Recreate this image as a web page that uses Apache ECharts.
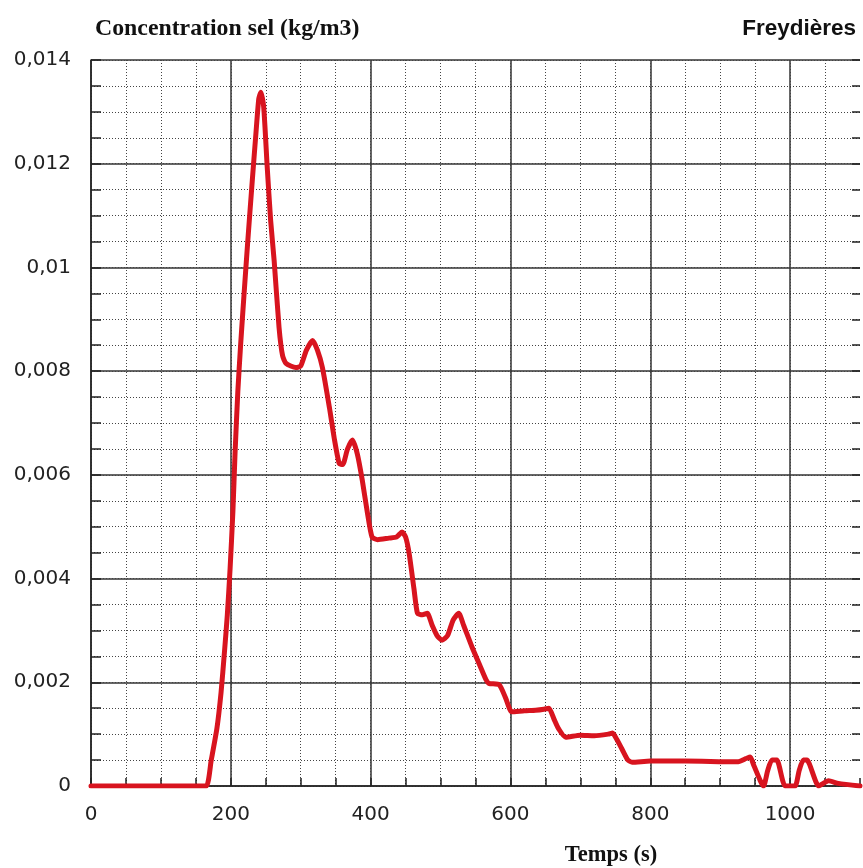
<!DOCTYPE html>
<html>
<head>
<meta charset="utf-8">
<script src="https://cdn.jsdelivr.net/npm/echarts@6/dist/echarts.min.js"></script>
<style>html,body{margin:0;padding:0;background:#fff}#c{width:863px;height:868px}</style>
</head>
<body>
<div id="c"></div>
<script>
var times = [0, 20, 40, 60, 80, 100, 120, 150, 165, 172, 180, 186, 191, 195, 199, 203, 206, 210, 214, 219, 224, 231, 236, 240, 243, 247, 252, 257, 262, 269, 274, 279, 293, 300, 308, 317, 324, 331, 341, 348, 355, 360, 367, 374, 381, 388, 395, 402, 410, 426, 437, 445, 450, 455, 462, 467, 474, 481, 488, 495, 502, 510, 518, 526, 533, 545, 557, 565, 569, 584, 593, 602, 620, 636, 648, 655, 662, 669, 679, 700, 720, 740, 746, 752, 760, 768, 774, 800, 850, 898, 926, 937, 943, 948, 962, 968, 974, 981, 993, 1007, 1013, 1019, 1024, 1041, 1055, 1069, 1100];
var concentration = [0, 0, 0, 0, 0, 0, 0, 0, 0, 0.0005, 0.0011, 0.0018, 0.0026, 0.0033, 0.0042, 0.0053, 0.0064, 0.0076, 0.0085, 0.0095, 0.01046, 0.01173, 0.0126, 0.01325, 0.01338, 0.0131, 0.01195, 0.0109, 0.01013, 0.00884, 0.0083, 0.00815, 0.00807, 0.0081, 0.0084, 0.00859, 0.0084, 0.00807, 0.0073, 0.0067, 0.00622, 0.0062, 0.0065, 0.00667, 0.0064, 0.0059, 0.0053, 0.0048, 0.00475, 0.00478, 0.0048, 0.0049, 0.0048, 0.00449, 0.0038, 0.00333, 0.0033, 0.00333, 0.0031, 0.0029, 0.00281, 0.0029, 0.0032, 0.00333, 0.0031, 0.00268, 0.0023, 0.00205, 0.00198, 0.00195, 0.0017, 0.00143, 0.00145, 0.00146, 0.00148, 0.0015, 0.0013, 0.0011, 0.00094, 0.00098, 0.00097, 0.001, 0.00102, 0.0009, 0.0007, 0.0005, 0.00046, 0.00048, 0.00048, 0.00047, 0.00047, 0.00053, 0.00056, 0.0004, 0, 0.0003, 0.0005, 0.0005, 0, 0, 0.0003, 0.0005, 0.0005, 0, 0.0001, 0.00005, 0];
var xTickLabels = [0, 200, 400, 600, 800, 1000];
var yTickLabels = ['0', '0,002', '0,004', '0,006', '0,008', '0,01', '0,012', '0,014'];
var titleText = 'Concentration sel (kg/m3)';
var siteText = 'Freydières';
var xAxisName = 'Temps (s)';

var data = times.map(function (t, i) { return [t, concentration[i]]; });
var chart = echarts.init(document.getElementById('c'));
var major = { show: true, lineStyle: { color: '#333', width: 1.5, type: 'solid' }, showMaxLine: false };
var minor = { show: true, lineStyle: { color: '#444', width: 1, type: [1, 2] }, showMaxLine: false };
var labelFont = { fontFamily: 'DejaVu Sans', fontSize: 20, color: '#222' };
chart.setOption({
  animation: false,
  backgroundColor: '#fff',
  grid: { left: 91, right: 1, top: 60, bottom: 82, containLabel: false },
  xAxis: [
    { type: 'value', min: 0, max: 1100, interval: 200, position: 'bottom',
      axisLine: { show: true, lineStyle: { color: '#222', width: 1.5 } },
      axisTick: { show: false },
      splitLine: major,
      axisLabel: Object.assign({ margin: 19, formatter: function (v) { return xTickLabels.indexOf(v) >= 0 ? String(v) : ''; } }, labelFont) },
    { type: 'value', min: 0, max: 1100, interval: 50, position: 'bottom',
      axisLine: { show: false }, axisLabel: { show: false },
      axisTick: { show: true, inside: true, length: 8, lineStyle: { color: '#222', width: 1.5 } },
      splitLine: minor }
  ],
  yAxis: [
    { type: 'value', min: 0, max: 0.014, interval: 0.002, position: 'left',
      axisLine: { show: true, lineStyle: { color: '#222', width: 1.5 } },
      axisTick: { show: false },
      splitLine: { show: true, lineStyle: { color: '#333', width: 1.5 } },
      axisLabel: Object.assign({ margin: 20, formatter: function (v) { var i = Math.round(v / 0.002); return yTickLabels[i] || ''; } }, labelFont) },
    { type: 'value', min: 0, max: 0.014, interval: 0.0005, position: 'left',
      axisLine: { show: false }, axisLabel: { show: false },
      axisTick: { show: true, inside: true, length: 10, lineStyle: { color: '#222', width: 1.5 } },
      splitLine: { show: true, lineStyle: { color: '#444', width: 1, type: [1, 2] } } },
    { type: 'value', min: 0, max: 0.014, interval: 0.0005, position: 'right',
      axisLine: { show: false }, axisLabel: { show: false },
      axisTick: { show: true, inside: true, length: 8, lineStyle: { color: '#222', width: 1.5 } },
      splitLine: { show: false } }
  ],
  series: [{
    type: 'line', xAxisIndex: 0, yAxisIndex: 0, data: data,
    smooth: 0.2, showSymbol: false,
    lineStyle: { color: '#d8141f', width: 5, join: 'round', cap: 'round' },
    z: 5
  }],
  graphic: [
    { type: 'text', left: 95, top: 17, style: { text: titleText, font: 'bold 23.8px "Liberation Serif"', fill: '#111' } },
    { type: 'text', right: 7, top: 17, style: { text: siteText, font: 'bold 22.5px "Liberation Sans"', fill: '#111' } },
    { type: 'text', x: 611, y: 855, style: { text: xAxisName, font: 'bold 22.5px "Liberation Serif"', fill: '#111', align: 'center', verticalAlign: 'middle' } }
  ]
});
</script>
</body>
</html>
